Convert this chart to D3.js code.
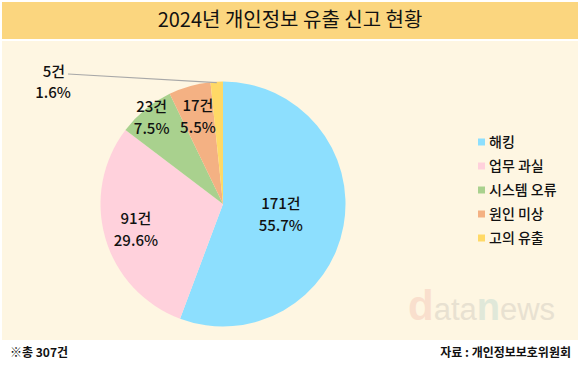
<!DOCTYPE html>
<html>
<head>
<meta charset="utf-8">
<script src="https://cdn.jsdelivr.net/npm/d3@7"></script>
<style>
  body { margin: 0; background: #fff; }
  svg { display: block; font-family: "Noto Sans CJK KR", sans-serif; }
</style>
</head>
<body>
<svg width="580" height="368"></svg>
<script>
// Data
var categories = ["해킹", "업무 과실", "시스템 오류", "원인 미상", "고의 유출"];
var counts = [171, 91, 23, 17, 5];
var percents = ["55.7%", "29.6%", "7.5%", "5.5%", "1.6%"];
var colors = ["#8ddffe", "#ffd1dc", "#a9d18e", "#f4b183", "#ffd966"];

var svg = d3.select("svg"),
    width = +svg.attr("width"),
    height = +svg.attr("height");

// Title bar and background
svg.append("rect").attr("x", 2).attr("y", 2).attr("width", width - 4).attr("height", 37)
    .attr("fill", "#fbd67f");
svg.append("text")
    .attr("x", width / 2).attr("y", 27)
    .attr("text-anchor", "middle")
    .style("font-size", "20px").style("font-weight", 400).attr("fill", "#111")
    .text("2024년 개인정보 유출 신고 현황");
svg.append("rect").attr("x", 2).attr("y", 41).attr("width", width - 4).attr("height", 299)
    .attr("fill", "#fef6e2");

// Watermark
var wm = svg.append("text").attr("x", 408).attr("y", 320)
    .style("font-family", "Liberation Sans, Arial, sans-serif");
wm.append("tspan").text("d").style("font-size", "42px").style("font-weight", "bold").attr("fill", "#f9dfcd");
wm.append("tspan").text("ata").style("font-size", "31px").attr("fill", "#e8e1d1");
wm.append("tspan").text("n").style("font-size", "38px").style("font-weight", "bold").attr("fill", "#e0e8d9");
wm.append("tspan").text("ews").style("font-size", "31px").attr("fill", "#e8e1d1");

// Pie
var cx = 223, cy = 204, r = 122.5;
var pie = d3.pie().sort(null).value(function (d) { return d; });
var arcs = pie(counts);
var arc = d3.arc().innerRadius(0).outerRadius(r);
var g = svg.append("g").attr("transform", "translate(" + cx + "," + cy + ")");

g.selectAll("path")
    .data(arcs)
    .enter().append("path")
    .attr("d", arc)
    .attr("fill", function (d, i) { return colors[i]; });

// Labels inside slices (radius factor per slice)
var labelR = [0.48, 0.74, 0.92, 0.75];
arcs.forEach(function (d, i) {
    if (i >= labelR.length) return;
    var a = (d.startAngle + d.endAngle) / 2;
    var rr = r * labelR[i];
    var x = Math.sin(a) * rr, y = -Math.cos(a) * rr;
    var t = g.append("text").attr("text-anchor", "middle")
        .style("font-size", "15px").style("font-weight", 500).attr("fill", "#111");
    t.append("tspan").attr("x", x).attr("y", y - 5).text(counts[i] + "건");
    t.append("tspan").attr("x", x).attr("y", y + 17).text(percents[i]);
});

// Outside label for the smallest slice with leader line
var last = arcs[arcs.length - 1];
var la = (last.startAngle + last.endAngle) / 2;
g.append("line")
    .attr("x1", Math.sin(la) * (r - 1)).attr("y1", -Math.cos(la) * (r - 1))
    .attr("x2", 68 - cx).attr("y2", 74 - cy)
    .attr("stroke", "#a8a8a8").attr("stroke-width", 1.2);
var t5 = svg.append("text").attr("text-anchor", "middle")
    .style("font-size", "15px").style("font-weight", 500).attr("fill", "#111");
t5.append("tspan").attr("x", 54).attr("y", 77).text(counts[4] + "건");
t5.append("tspan").attr("x", 53).attr("y", 98).text(percents[4]);

// Legend
var legend = svg.append("g").attr("transform", "translate(478,142)");
var items = legend.selectAll("g")
    .data(categories)
    .enter().append("g")
    .attr("transform", function (d, i) { return "translate(0," + (i * 24) + ")"; });
items.append("rect").attr("x", 0).attr("y", -3.5).attr("width", 7).attr("height", 7)
    .attr("fill", function (d, i) { return colors[i]; });
items.append("text").attr("x", 11).attr("y", 5)
    .style("font-size", "14px").style("font-weight", 500).attr("fill", "#111")
    .text(function (d) { return d; });

// Footer
svg.append("text").attr("x", 10).attr("y", 357)
    .style("font-size", "12px").style("font-weight", "bold").attr("fill", "#111")
    .text("※총 307건");
svg.append("text").attr("x", 571).attr("y", 357).attr("text-anchor", "end")
    .style("font-size", "12px").style("font-weight", "bold").attr("fill", "#111")
    .text("자료 : 개인정보보호위원회");
</script>
</body>
</html>
